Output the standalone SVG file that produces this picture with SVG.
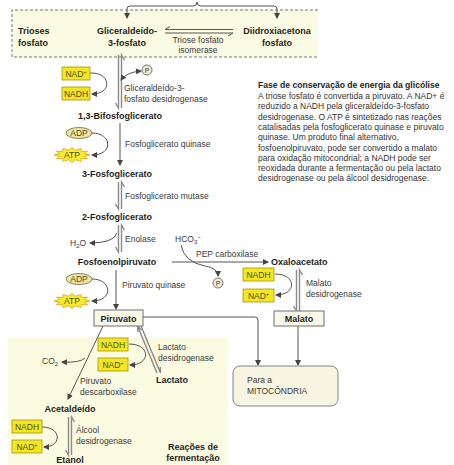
<svg xmlns="http://www.w3.org/2000/svg" width="454" height="465" viewBox="0 0 454 465">
<style>
  text { font-family: "Liberation Sans", Arial, sans-serif; }
  .b { font-weight: bold; font-size: 9px; fill: #1e1e1e; }
  .e { font-size: 8.5px; fill: #3a3a3a; }
  .p { font-size: 8.5px; fill: #333; }
  .pt { font-size: 8.6px; font-weight: bold; fill: #1e1e1e; }
  .cof { font-size: 8.5px; fill: #4a4a2a; }
  .ybox { fill: #f5e61e; stroke: #a39416; stroke-width: 0.8; }
  .line { fill: none; stroke: #555; stroke-width: 1; }
  .bar { fill: none; stroke: #8a8a8a; stroke-width: 1.4; }
  .box { fill: #fbf8e8; stroke: #6e6e6e; stroke-width: 1; }
</style>
<defs>
  <marker id="ah" viewBox="0 0 6 6" refX="5" refY="3" markerWidth="6" markerHeight="6" orient="auto-start-reverse" markerUnits="userSpaceOnUse">
    <path d="M0,0 L6,3 L0,6 z" fill="#444"/>
  </marker>
  <polygon id="star" points="18,0 12.6,1.3 15.6,3.8 9.2,3.5 9,6.5 3.4,4.8 0,7.5 -3.4,4.8 -9,6.5 -9.2,3.5 -15.6,3.8 -12.6,1.3 -18,0 -12.6,-1.3 -15.6,-3.8 -9.2,-3.5 -9,-6.5 -3.4,-4.8 0,-7.5 3.4,-4.8 9,-6.5 9.2,-3.5 15.6,-3.8 12.6,-1.3" fill="#f7ec2a" stroke="#e0a21a" stroke-width="0.8"/>
</defs>

<rect width="454" height="465" fill="#ffffff"/>

<!-- shaded panels -->
<g id="triose-panel">
  <rect x="12" y="10" width="306" height="47" fill="#fcfbe3"/>
  <path d="M318,10 H12 V57 H318" fill="none" stroke="#666" stroke-width="0.9" stroke-dasharray="3,2"/>
</g>
<g id="fermentation-panel">
  <rect x="8" y="337" width="220" height="128" fill="#fbfbe2"/>
</g>

<!-- connectors -->
<g id="connectors">
  <!-- interconversion bracket between the triose phosphates -->
  <path class="line" d="M197,2 Q197,6 193,6 H130 Q127,6 127,9 V18" marker-end="url(#ah)"/>
  <path class="line" d="M197,2 Q197,6 201,6 H274 Q277,6 277,9 V18" marker-end="url(#ah)"/>
  <!-- isomerase equilibrium -->
  <path class="line" d="M233,29.5 H165 l5,-3"/>
  <path class="line" d="M165,33 H233 l-5,3"/>

  <!-- GAPDH (reversible) -->
  <path class="bar" d="M118.5,55 V108 l-3,-5"/>
  <path class="bar" d="M121.5,108 V55 l3,5"/>
  <path class="line" d="M90,73 C111,72 113,94 92,94" marker-end="url(#ah)"/>
  <path class="line" d="M121,80 Q127,72 141,71" marker-start="url(#ah)" marker-end="url(#ah)"/>

  <!-- phosphoglycerate kinase -->
  <path class="line" d="M120,123 V165" marker-end="url(#ah)"/>
  <path class="line" d="M92,133 C112,133 114,155 92,155" marker-end="url(#ah)"/>

  <!-- phosphoglycerate mutase -->
  <path class="bar" d="M118.5,182 V209 l-3,-5"/>
  <path class="bar" d="M121.5,209 V182 l3,5"/>

  <!-- enolase -->
  <path class="bar" d="M118.5,225 V252 l-3,-5"/>
  <path class="bar" d="M121.5,252 V225 l3,5"/>
  <path class="line" d="M117,233 Q114,243 90,243" marker-end="url(#ah)"/>

  <!-- PEP carboxylase -->
  <path class="line" d="M172,262 H268" marker-end="url(#ah)"/>
  <path class="line" d="M181,245 Q184,262 205,266 Q218,268 218,276" marker-end="url(#ah)"/>

  <!-- pyruvate kinase -->
  <path class="line" d="M116,270 V309" marker-end="url(#ah)"/>
  <path class="line" d="M92,279 C112,279 114,301 92,301" marker-end="url(#ah)"/>

  <!-- malate dehydrogenase -->
  <path class="bar" d="M296.5,270 V311 l-3,-5"/>
  <path class="bar" d="M299.5,311 V270 l3,5"/>
  <path class="line" d="M275,274 C297,274 297,295 276,295" marker-end="url(#ah)"/>

  <!-- towards the mitochondrion -->
  <path class="line" d="M143,317 H255 Q258,317 258,320 V365" marker-end="url(#ah)"/>
  <path class="line" d="M298,326 V365" marker-end="url(#ah)"/>

  <!-- lactate dehydrogenase -->
  <path class="bar" d="M137.5,326 L157,373"/>
  <path class="bar" d="M137.5,326 l0.5,6"/>
  <path class="bar" d="M141,326 L160.5,373 l-0.3,-6"/>
  <path class="bar" d="M137.5,326 l4,4"/>
  <path class="line" d="M129,344 C151,344 151,365 130,365" marker-end="url(#ah)"/>

  <!-- pyruvate decarboxylase -->
  <path class="line" d="M103,326 L68,399" marker-end="url(#ah)"/>
  <path class="line" d="M85,358 Q80,363 62,362" marker-end="url(#ah)"/>

  <!-- alcohol dehydrogenase -->
  <path class="bar" d="M68.5,417 V455 l-3,-5"/>
  <path class="bar" d="M71.5,455 V417 l3,5"/>
  <path class="line" d="M42,427 C62,427 62,447 44,447" marker-end="url(#ah)"/>
</g>

<!-- triose phosphates -->
<g id="trioses">
  <text class="b" x="18" y="34">Trioses</text>
  <text class="b" x="18" y="46">fosfato</text>
</g>
<g id="gliceraldeido-3-fosfato">
  <text class="b" x="127" y="34" text-anchor="middle">Gliceraldeído-</text>
  <text class="b" x="127" y="46" text-anchor="middle">3-fosfato</text>
</g>
<g id="triose-isomerase">
  <text class="e" x="198" y="43" text-anchor="middle">Triose fosfato</text>
  <text class="e" x="198" y="53" text-anchor="middle">isomerase</text>
</g>
<g id="diidroxiacetona-fosfato">
  <text class="b" x="277" y="34" text-anchor="middle">Diidroxiacetona</text>
  <text class="b" x="277" y="46" text-anchor="middle">fosfato</text>
</g>

<!-- glyceraldehyde-3-phosphate dehydrogenase -->
<g id="nad-1">
  <rect class="ybox" x="62" y="67" width="28" height="13"/>
  <text class="cof" x="76" y="76.5" text-anchor="middle">NAD<tspan font-size="5.5" dy="-3">+</tspan></text>
</g>
<g id="nadh-1">
  <rect class="ybox" x="62" y="87" width="28" height="13"/>
  <text class="cof" x="76" y="96.5" text-anchor="middle">NADH</text>
</g>
<g id="pi-1">
  <circle cx="147" cy="70" r="5" fill="#f3ead0" stroke="#555" stroke-width="0.8"/>
  <text x="147" y="72.8" font-size="7" fill="#444" text-anchor="middle">P</text>
</g>
<g id="gapdh">
  <text class="e" x="124" y="91">Gliceraldeído-3-</text>
  <text class="e" x="124" y="102">fosfato desidrogenase</text>
</g>
<g id="bifosfoglicerato">
  <text class="b" x="120" y="119" text-anchor="middle">1,3-Bifosfoglicerato</text>
</g>

<!-- phosphoglycerate kinase -->
<g id="adp-1">
  <ellipse cx="79" cy="133" rx="13" ry="5.5" fill="#efe6a2" stroke="#6e6a3a" stroke-width="0.8"/>
  <text class="cof" x="79" y="136" text-anchor="middle">ADP</text>
</g>
<g id="atp-1">
  <use href="#star" x="72" y="155"/>
  <text class="cof" x="72" y="158" text-anchor="middle">ATP</text>
</g>
<g id="pgk">
  <text class="e" x="125" y="147">Fosfoglicerato quinase</text>
</g>
<g id="fosfoglicerato-3">
  <text class="b" x="117" y="177" text-anchor="middle">3-Fosfoglicerato</text>
</g>
<g id="pgm">
  <text class="e" x="125" y="199">Fosfoglicerato mutase</text>
</g>
<g id="fosfoglicerato-2">
  <text class="b" x="117" y="220" text-anchor="middle">2-Fosfoglicerato</text>
</g>
<g id="enolase">
  <text class="e" x="125" y="242">Enolase</text>
</g>
<g id="h2o">
  <text class="e" x="70" y="246">H<tspan font-size="6" dy="2">2</tspan><tspan dy="-2">O</tspan></text>
</g>
<g id="fosfoenolpiruvato">
  <text class="b" x="117" y="265" text-anchor="middle">Fosfoenolpiruvato</text>
</g>

<!-- PEP carboxylase branch -->
<g id="hco3">
  <text class="e" x="175" y="242">HCO<tspan font-size="6" dy="2">3</tspan><tspan font-size="6" dy="-5">−</tspan></text>
</g>
<g id="pep-carboxilase">
  <text class="e" x="196" y="257">PEP carboxilase</text>
</g>
<g id="pi-2">
  <circle cx="218" cy="283" r="5" fill="#f3ead0" stroke="#555" stroke-width="0.8"/>
  <text x="218" y="285.8" font-size="7" fill="#444" text-anchor="middle">P</text>
</g>
<g id="oxaloacetato">
  <text class="b" x="271" y="265">Oxaloacetato</text>
</g>
<g id="nadh-2">
  <rect class="ybox" x="243" y="268" width="31" height="13"/>
  <text class="cof" x="258.5" y="277.5" text-anchor="middle">NADH</text>
</g>
<g id="nad-2">
  <rect class="ybox" x="243" y="289" width="31" height="13"/>
  <text class="cof" x="258.5" y="298.5" text-anchor="middle">NAD<tspan font-size="5.5" dy="-3">+</tspan></text>
</g>
<g id="mdh">
  <text class="e" x="306" y="286">Malato</text>
  <text class="e" x="306" y="297">desidrogenase</text>
</g>
<g id="malato">
  <rect class="box" x="274" y="311" width="50" height="15"/>
  <text class="b" x="299" y="322" text-anchor="middle">Malato</text>
</g>

<!-- pyruvate kinase -->
<g id="adp-2">
  <ellipse cx="79" cy="279" rx="13" ry="5.5" fill="#efe6a2" stroke="#6e6a3a" stroke-width="0.8"/>
  <text class="cof" x="79" y="282" text-anchor="middle">ADP</text>
</g>
<g id="atp-2">
  <use href="#star" x="72" y="301"/>
  <text class="cof" x="72" y="304" text-anchor="middle">ATP</text>
</g>
<g id="pk">
  <text class="e" x="122" y="288">Piruvato quinase</text>
</g>
<g id="piruvato">
  <rect class="box" x="94" y="310" width="49" height="16"/>
  <text class="b" x="118.5" y="321.5" text-anchor="middle">Piruvato</text>
</g>

<!-- mitochondrion -->
<g id="mitocondria">
  <rect x="233" y="366" width="105" height="40" rx="7" fill="#f8f4e2" stroke="#777" stroke-width="0.9"/>
  <text class="e" x="247" y="383">Para a</text>
  <text class="e" x="247" y="394">MITOCÔNDRIA</text>
</g>

<!-- fermentation -->
<g id="nadh-3">
  <rect class="ybox" x="98" y="338" width="30" height="13"/>
  <text class="cof" x="113" y="347.5" text-anchor="middle">NADH</text>
</g>
<g id="nad-3">
  <rect class="ybox" x="98" y="358" width="30" height="13"/>
  <text class="cof" x="113" y="367.5" text-anchor="middle">NAD<tspan font-size="5.5" dy="-3">+</tspan></text>
</g>
<g id="ldh">
  <text class="e" x="158" y="350">Lactato</text>
  <text class="e" x="158" y="361">desidrogenase</text>
</g>
<g id="lactato">
  <text class="b" x="156" y="383">Lactato</text>
</g>
<g id="co2">
  <text class="e" x="42" y="364">CO<tspan font-size="6" dy="2">2</tspan></text>
</g>
<g id="pdc">
  <text class="e" x="80" y="384">Piruvato</text>
  <text class="e" x="80" y="395">descarboxilase</text>
</g>
<g id="acetaldeido">
  <text class="b" x="70" y="412" text-anchor="middle">Acetaldeído</text>
</g>
<g id="nadh-4">
  <rect class="ybox" x="12" y="420" width="30" height="13"/>
  <text class="cof" x="27" y="429.5" text-anchor="middle">NADH</text>
</g>
<g id="nad-4">
  <rect class="ybox" x="12" y="440" width="30" height="13"/>
  <text class="cof" x="27" y="449.5" text-anchor="middle">NAD<tspan font-size="5.5" dy="-3">+</tspan></text>
</g>
<g id="adh">
  <text class="e" x="76" y="433">Álcool</text>
  <text class="e" x="76" y="444">desidrogenase</text>
</g>
<g id="etanol">
  <text class="b" x="70" y="463" text-anchor="middle">Etanol</text>
</g>
<g id="fermentacao">
  <text class="b" x="193" y="450" text-anchor="middle">Reações de</text>
  <text class="b" x="193" y="461" text-anchor="middle">fermentação</text>
</g>

<!-- caption -->
<g id="legenda">
  <text class="pt" x="258" y="88">Fase de conservação de energia da glicólise</text>
  <text class="p" x="258" y="99">A triose fosfato é convertida a piruvato. A NAD+ é</text>
  <text class="p" x="258" y="109.3">reduzido a NADH pela gliceraldeído-3-fosfato</text>
  <text class="p" x="258" y="119.6">desidrogenase. O ATP é sintetizado nas reações</text>
  <text class="p" x="258" y="129.9">catalisadas pela fosfoglicerato quinase e piruvato</text>
  <text class="p" x="258" y="140.2">quinase. Um produto final alternativo,</text>
  <text class="p" x="258" y="150.5">fosfoenolpiruvato, pode ser convertido a malato</text>
  <text class="p" x="258" y="160.8">para oxidação mitocondrial; a NADH pode ser</text>
  <text class="p" x="258" y="171.1">reoxidada durante a fermentação ou pela lactato</text>
  <text class="p" x="258" y="181.4">desidrogenase ou pela álcool desidrogenase.</text>
</g>
</svg>
